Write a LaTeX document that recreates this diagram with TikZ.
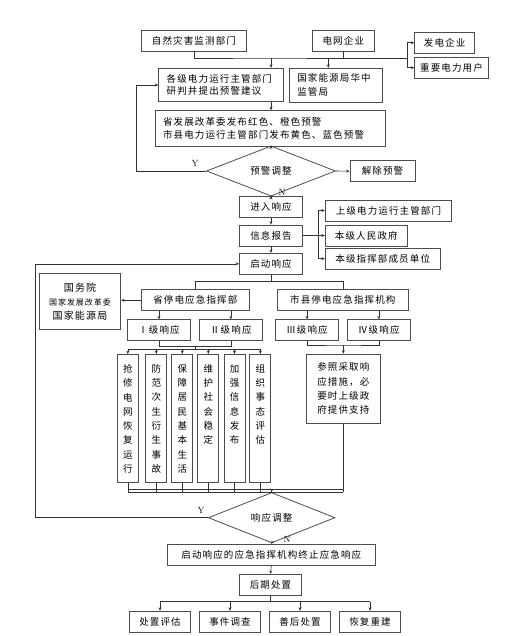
\documentclass[tikz,border=0pt]{standalone}
\usepackage{fontspec}
\newfontfamily\cjk[LetterSpace=12]{Noto Sans CJK SC}
\usetikzlibrary{arrows.meta,shapes.geometric}
\newcommand{\vcol}[1]{\parbox[t][108pt][t]{11pt}{\centering\baselineskip=14.3pt #1}}
\tikzset{
    box/.style={draw=black!70, line width=0.8pt, inner sep=0pt, minimum height=21pt,
        align=center, font=\cjk\fontsize{9.5}{12}\selectfont},
    lbox/.style={box, align=left, inner xsep=8pt},
    vbox/.style={box, anchor=north, minimum width=21pt, inner ysep=10pt},
    judge/.style={draw=black!70, line width=0.8pt, diamond, inner sep=0pt,
        font=\cjk\fontsize{9.5}{12}\selectfont},
    arr/.style={-{Stealth[length=3.5pt,width=3pt]}, line width=0.6pt, black!80},
    ln/.style={line width=0.6pt, black!80},
    yn/.style={font=\fontsize{9}{10}\selectfont, inner sep=1pt}
}
\begin{document}
\begin{tikzpicture}[x=1pt,y=-1pt]
    \useasboundingbox (0,0) rectangle (525,636);
    % warning stage
    \node[box, minimum width=104.3pt] (disaster) at (193.9,40.5) {自然灾害监测部门};
    \node[box, minimum width=61.3pt] (grid) at (343.3,40.5) {电网企业};
    \node[box, minimum width=60pt] (gen) at (444.7,42.8) {发电企业};
    \node[box, minimum width=73.6pt] (user) at (451.5,67.7) {重要电力用户};
    \node[lbox, text width=108.6pt, minimum height=33.4pt, font=\cjk\fontsize{9.5}{11.5}\selectfont] (dept) at (221,85) {各级电力运行主管部门\\研判并提出预警建议};
    \node[lbox, text width=77pt, minimum height=34pt, font=\cjk\fontsize{9.5}{14}\selectfont] (nea) at (335.8,85.3) {国家能源局华中\\监管局};
    \node[lbox, text width=214pt, minimum height=35.3pt, font=\cjk\fontsize{9.5}{12.7}\selectfont] (issue) at (270,128.3) {省发展改革委发布红色、橙色预警\\市县电力运行主管部门发布黄色、蓝色预警};
    \node[judge, minimum width=129pt, minimum height=32.7pt] (adj1) at (271,171) {预警调整};
    \node[box, minimum width=65pt] (lift) at (382.5,171.2) {解除预警};
    \node[yn] (y1) at (195,163.3) {Y};
    \node[yn] (n1) at (282,192.5) {N};
    % response stage
    \node[box, minimum width=63pt] (enter) at (271,207) {进入响应};
    \node[box, minimum width=63pt] (report) at (271,235.5) {信息报告};
    \node[box, minimum width=126.4pt] (upper) at (388.5,210.5) {上级电力运行主管部门};
    \node[box, minimum width=82pt] (gov) at (366.3,235.5) {本级人民政府};
    \node[box, minimum width=114.7pt] (member) at (382.7,258.7) {本级指挥部成员单位};
    \node[box, minimum width=63pt] (start) at (271,263.8) {启动响应};
    \node[box, minimum width=107.3pt] (prov) at (195.3,300.3) {省停电应急指挥部};
    \node[box, minimum width=131pt] (city) at (342.8,300.3) {市县停电应急指挥机构};
    \node[box, minimum width=81.4pt, minimum height=56pt, font=\cjk\fontsize{10}{14}\selectfont] (state) at (80,301.3) {国务院\\{\fontsize{8}{14}\selectfont 国家发展改革委}\\国家能源局};
    \node[box, minimum width=63.4pt] (lv1) at (159,330.3) {Ⅰ级响应};
    \node[box, minimum width=63pt] (lv2) at (230.8,330.3) {Ⅱ级响应};
    \node[box, minimum width=62.6pt] (lv3) at (307,330.3) {Ⅲ级响应};
    \node[box, minimum width=62.3pt] (lv4) at (378.8,330.3) {Ⅳ级响应};
    \node[vbox] (m1) at (127.8,354) {\vcol{抢\\修\\电\\网\\恢\\复\\运\\行}};
    \node[vbox] (m2) at (156.3,354) {\vcol{防\\范\\次\\生\\衍\\生\\事\\故}};
    \node[vbox] (m3) at (182.3,354) {\vcol{保\\障\\居\\民\\基\\本\\生\\活}};
    \node[vbox] (m4) at (208.3,354) {\vcol{维\\护\\社\\会\\稳\\定}};
    \node[vbox] (m5) at (234.5,354) {\vcol{加\\强\\信\\息\\发\\布}};
    \node[vbox] (m6) at (260.3,354) {\vcol{组\\织\\事\\态\\评\\估}};
    \node[box, minimum width=73.3pt, minimum height=69.3pt, font=\cjk\fontsize{9.5}{14.3}\selectfont] (refer) at (343.3,388.7) {参照采取响\\应措施，必\\要时上级政\\府提供支持};
    \node[judge, minimum width=126.7pt, minimum height=32.5pt] (adj2) at (271.7,517.7) {响应调整};
    \node[yn] (y2) at (201,510) {Y};
    \node[yn] (n2) at (287,539) {N};
    % ending stage
    \node[box, minimum width=207.3pt, minimum height=21.4pt] (stop) at (271.3,555) {启动响应的应急指挥机构终止应急响应};
    \node[box, minimum width=62.4pt, minimum height=21.4pt] (after) at (270.5,585) {后期处置};
    \node[box, minimum width=61.7pt] (r1) at (160,621.7) {处置评估};
    \node[box, minimum width=61.7pt] (r2) at (230,621.7) {事件调查};
    \node[box, minimum width=61.7pt] (r3) at (300,621.7) {善后处置};
    \node[box, minimum width=61.7pt] (r4) at (370,621.7) {恢复重建};
    % junction points
    \coordinate (j1) at (271,58);
    \coordinate (j2) at (328.3,58);
    \coordinate (fork1) at (407,58);
    \coordinate (fb1) at (136.7,171);
    \coordinate (fork2) at (318.3,235.5);
    \coordinate (j4) at (271,281.7);
    \coordinate (j5) at (195,346.7);
    \coordinate (bus1) at (195,349.3);
    \coordinate (j6) at (343.3,345);
    \coordinate (bus2) at (271.7,492);
    \coordinate (bus3) at (271.7,489);
    \coordinate (fb2) at (35.7,517.7);
    \coordinate (j7) at (270.5,601.7);
    % connectors
    \draw[ln] (disaster.south) |- (j1) -| (grid.south);
    \draw[arr] (j1) -- (j1 |- dept.north);
    \draw[arr] (j2) -- (j2 |- nea.north);
    \draw[ln] (grid.south |- j1) -- (fork1);
    \draw[arr] (fork1) |- (gen.west);
    \draw[arr] (fork1) |- (user.west);
    \draw[arr] (j1 |- dept.south) -- (j1 |- issue.north);
    \draw[arr] (issue.south -| adj1.north) -- (adj1.north);
    \draw[arr] (adj1.west) -- (fb1) |- (dept.west);
    \draw[arr] (adj1.east) -- (lift.west);
    \draw[arr] (adj1.south) -- (enter.north);
    \draw[arr] (enter.south) -- (report.north);
    \draw[ln] (report.east) -- (fork2);
    \draw[arr] (fork2) |- (upper.west);
    \draw[arr] (fork2) -- (gov.west);
    \draw[arr] (fork2) |- (member.west);
    \draw[arr] (report.south) -- (start.north);
    \draw[ln] (start.south) -- (j4);
    \draw[ln] (prov.north) |- (j4) -| (city.north);
    \draw[arr] (prov.west) -- (prov.west -| state.east);
    \draw[arr] (prov.south -| lv1.north) -- (lv1.north);
    \draw[arr] (prov.south -| lv2.north) -- (lv2.north);
    \draw[arr] (city.south -| lv3.north) -- (lv3.north);
    \draw[arr] (city.south -| lv4.north) -- (lv4.north);
    \draw[ln] (lv1.south) |- (j5) -| (lv2.south);
    \draw[ln] (j5) -- (bus1);
    \draw[ln] (m1.north |- bus1) -- (m6.north |- bus1);
    \foreach \i in {1,...,6}{
        \draw[arr] (m\i.north |- bus1) -- (m\i.north);
        \draw[ln] (m\i.south) -- (m\i.south |- bus2);
    }
    \draw[ln] (lv3.south) |- (j6) -| (lv4.south);
    \draw[arr] (j6) -- (refer.north);
    \draw[ln] (refer.south) -- (refer.south |- bus2);
    \draw[ln] (m1.south |- bus2) -- (refer.south |- bus2);
    \draw[ln] (m1.south |- bus3) -- (refer.south |- bus3);
    \draw[arr] (bus2) -- (adj2.north);
    \draw[arr] (adj2.west) -- (fb2) |- (start.west);
    \draw[arr] (adj2.south) -- (stop.north);
    \draw[arr] (stop.south) -- (after.north);
    \draw[ln] (after.south) -- (j7);
    \draw[ln] (r1.north |- j7) -- (r4.north |- j7);
    \foreach \i in {1,...,4}
        \draw[arr] (r\i.north |- j7) -- (r\i.north);
\end{tikzpicture}
\end{document}
